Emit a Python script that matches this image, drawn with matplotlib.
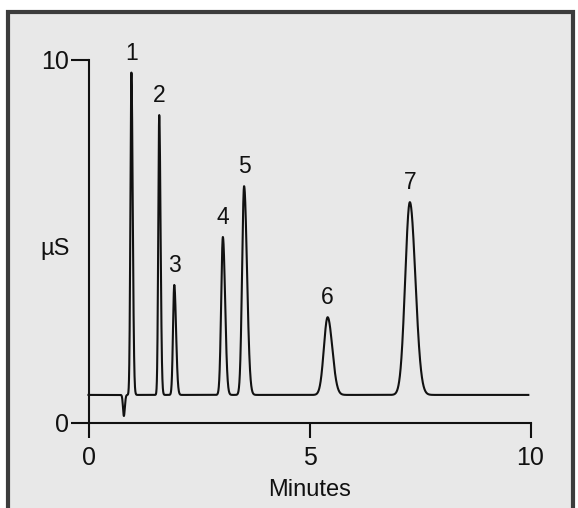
import numpy as np
import matplotlib
matplotlib.use("Agg")
import matplotlib.pyplot as plt
from matplotlib.patches import Rectangle

plt.rcParams['font.family'] = ['Liberation Sans Narrow', 'Liberation Sans', 'DejaVu Sans']

# Peak table: retention time (min), height (uS above baseline), left/right widths
peak_labels = ["1", "2", "3", "4", "5", "6", "7"]
peak_times = [0.97, 1.60, 1.94, 3.04, 3.52, 5.41, 7.27]
peak_heights = [8.88, 7.71, 3.03, 4.35, 5.75, 2.14, 5.31]
sigma_left = [0.022, 0.022, 0.028, 0.038, 0.045, 0.085, 0.105]
sigma_right = [0.030, 0.030, 0.040, 0.050, 0.065, 0.105, 0.125]

# Baseline level and the water dip just before peak 1
baseline = 0.76
dip_time = 0.80
dip_depth = 0.58
dip_sigma = (0.020, 0.022)
run_end = 9.95

x_ticks = [0, 5, 10]
y_ticks = [0, 10]


def asym_gauss(t, t0, h, sl, sr):
    s = np.where(t < t0, sl, sr)
    return h * np.exp(-0.5 * ((t - t0) / s) ** 2)


t = np.linspace(0, run_end, 6000)
signal = np.full_like(t, baseline)
signal -= asym_gauss(t, dip_time, dip_depth, *dip_sigma)
for t0, h, sl, sr in zip(peak_times, peak_heights, sigma_left, sigma_right):
    signal += asym_gauss(t, t0, h, sl, sr)

W, H = 578, 508
fig = plt.figure(figsize=(W / 100, H / 100), dpi=100, facecolor="white")

# Scanned page panel with dark frame
panel = Rectangle((8 / W, -0.02), (573 - 8) / W, 1.02 - 12 / H,
                  transform=fig.transFigure, facecolor="#e8e8e8",
                  edgecolor="#3c3c3c", linewidth=3, zorder=-10)
fig.add_artist(panel)

ax = fig.add_axes([60 / W, 1 - 460 / H, 500 / W, 430 / H])
ax.set_zorder(1)
ax.set_facecolor("none")
ax.set_xlim(-0.645, 10.667)
ax.set_ylim(-1.033, 10.813)

ink = "#111111"
ax.plot(t, signal, color=ink, linewidth=1.5, solid_joinstyle="round")

for lab, t0, h in zip(peak_labels, peak_times, peak_heights):
    ax.text(t0, baseline + h + 0.22, lab, ha="center", va="bottom",
            fontsize=16.5, color=ink)

# Axis lines
for side in ("top", "right"):
    ax.spines[side].set_visible(False)
ax.spines["left"].set_position(("data", 0))
ax.spines["bottom"].set_position(("data", 0))
ax.spines["left"].set_bounds(0, 10)
ax.spines["bottom"].set_bounds(0, 10)
for side in ("left", "bottom"):
    ax.spines[side].set_linewidth(1.5)
    ax.spines[side].set_color(ink)

ax.set_xticks(x_ticks)
ax.set_yticks(y_ticks)
ax.tick_params(axis="x", direction="out", length=11, width=1.5, color=ink,
               pad=6, labelsize=18, labelcolor=ink)
ax.tick_params(axis="y", direction="out", length=13, width=1.5, color=ink,
               pad=1, labelsize=18, labelcolor=ink)

ax.set_xlabel("Minutes", fontsize=17, color=ink)
ax.set_ylabel("µS", fontsize=17, color=ink, rotation=0, va="center")
ax.yaxis.set_label_coords(-0.01, 0.49)
ax.xaxis.set_label_coords(0.5, -0.045)

fig.savefig("out.png", dpi=100)
